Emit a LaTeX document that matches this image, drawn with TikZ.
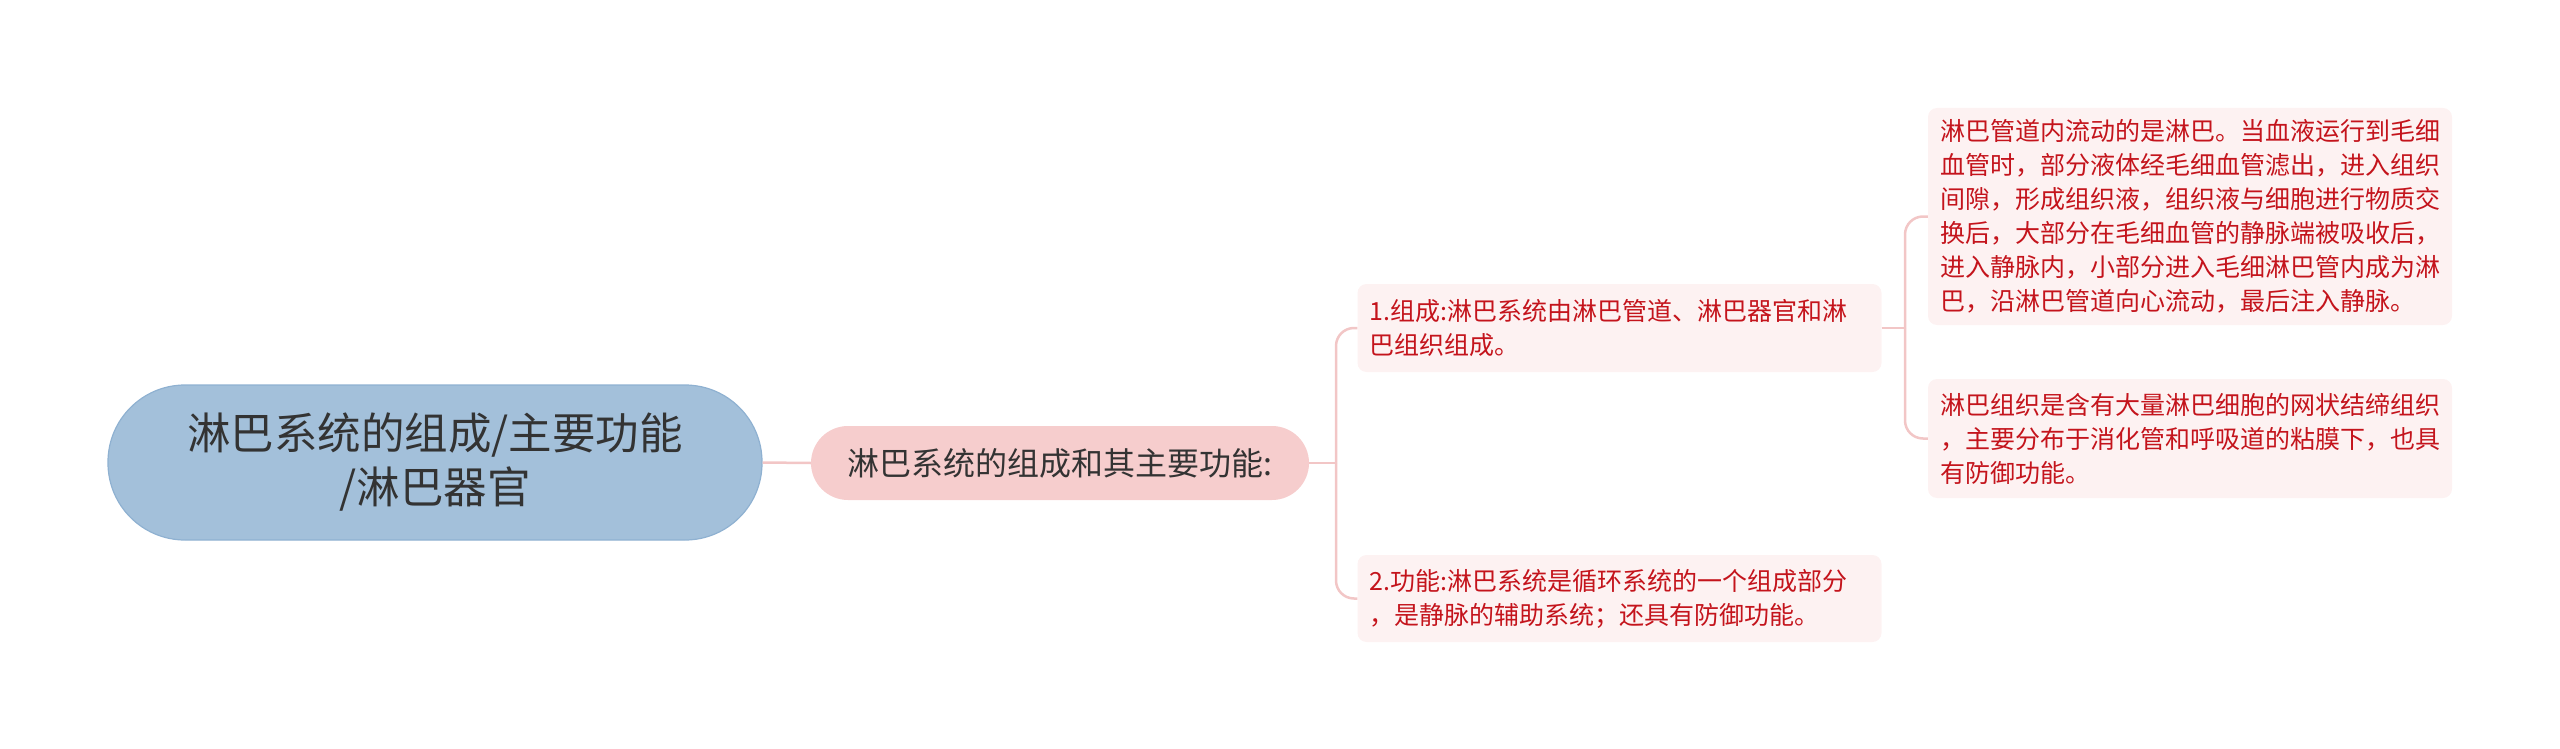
\documentclass[tikz,border=0pt]{standalone}
\usepackage{fontspec}
\newfontfamily\cjk{Noto Sans CJK SC}
\definecolor{rootfill}{HTML}{A3C0DA}
\definecolor{rootline}{HTML}{8FB1D1}
\definecolor{mainfill}{HTML}{F6CDCD}
\definecolor{subfill}{HTML}{FDF2F2}
\definecolor{linkcol}{HTML}{F2C6C6}
\definecolor{redtext}{HTML}{C4141C}
\definecolor{darktext}{HTML}{333333}
\tikzset{
  rootbox/.style={fill=rootfill, draw=rootline, line width=1.2pt, rounded corners=77pt,
    minimum width=654pt, minimum height=155pt, align=center, text=darktext,
    font=\cjk\fontsize{43.5}{54}\selectfont, inner sep=0pt},
  mainbox/.style={fill=mainfill, rounded corners=37pt, minimum width=498pt, minimum height=74pt,
    align=center, text=darktext, font=\cjk\fontsize{32}{38}\selectfont, inner sep=0pt},
  subbox/.style={fill=subfill, rounded corners=9pt, text width=500pt, inner xsep=12pt, inner ysep=0pt,
    align=left, text=redtext, font=\cjk\fontsize{25}{34}\selectfont},
  link/.style={draw=linkcol, line width=2.5pt},
  elbow/.style={link, rounded corners=18pt}
}
\begin{document}
\begin{tikzpicture}[x=1pt,y=-1pt]
\useasboundingbox (0,0) rectangle (2560,749);
\node[rootbox] (root) at (435,462.5) {淋巴系统的组成/主要功能\\/淋巴器官};
\node[mainbox] (main) at (1060,463) {淋巴系统的组成和其主要功能:};
\node[subbox, minimum height=88pt] (c1) at (1619.5,328) {1.组成:淋巴系统由淋巴管道、淋巴器官和淋\\巴组织组成。};
\node[subbox, minimum height=87pt] (c2) at (1619.5,598.5) {2.功能:淋巴系统是循环系统的一个组成部分\\，是静脉的辅助系统；还具有防御功能。};
\node[subbox, minimum height=217pt] (l1) at (2190,216.5) {淋巴管道内流动的是淋巴。当血液运行到毛细\\血管时，部分液体经毛细血管滤出，进入组织\\间隙，形成组织液，组织液与细胞进行物质交\\换后，大部分在毛细血管的静脉端被吸收后，\\进入静脉内，小部分进入毛细淋巴管内成为淋\\巴，沿淋巴管道向心流动，最后注入静脉。};
\node[subbox, minimum height=119pt] (l2) at (2190,438.5) {淋巴组织是含有大量淋巴细胞的网状结缔组织\\，主要分布于消化管和呼吸道的粘膜下，也具\\有防御功能。};
\coordinate (s1) at (1336,463);
\coordinate (s2) at (1905,328);
\draw[link] (root.east) -- (main.west);
\draw[link] (main.east) -- (s1);
\draw[elbow] (s1) |- (c1.west);
\draw[elbow] (s1) |- (c2.west);
\draw[link] (c1.east) -- (s2);
\draw[elbow] (s2) |- (l1.west);
\draw[elbow] (s2) |- (l2.west);
\end{tikzpicture}
\end{document}
